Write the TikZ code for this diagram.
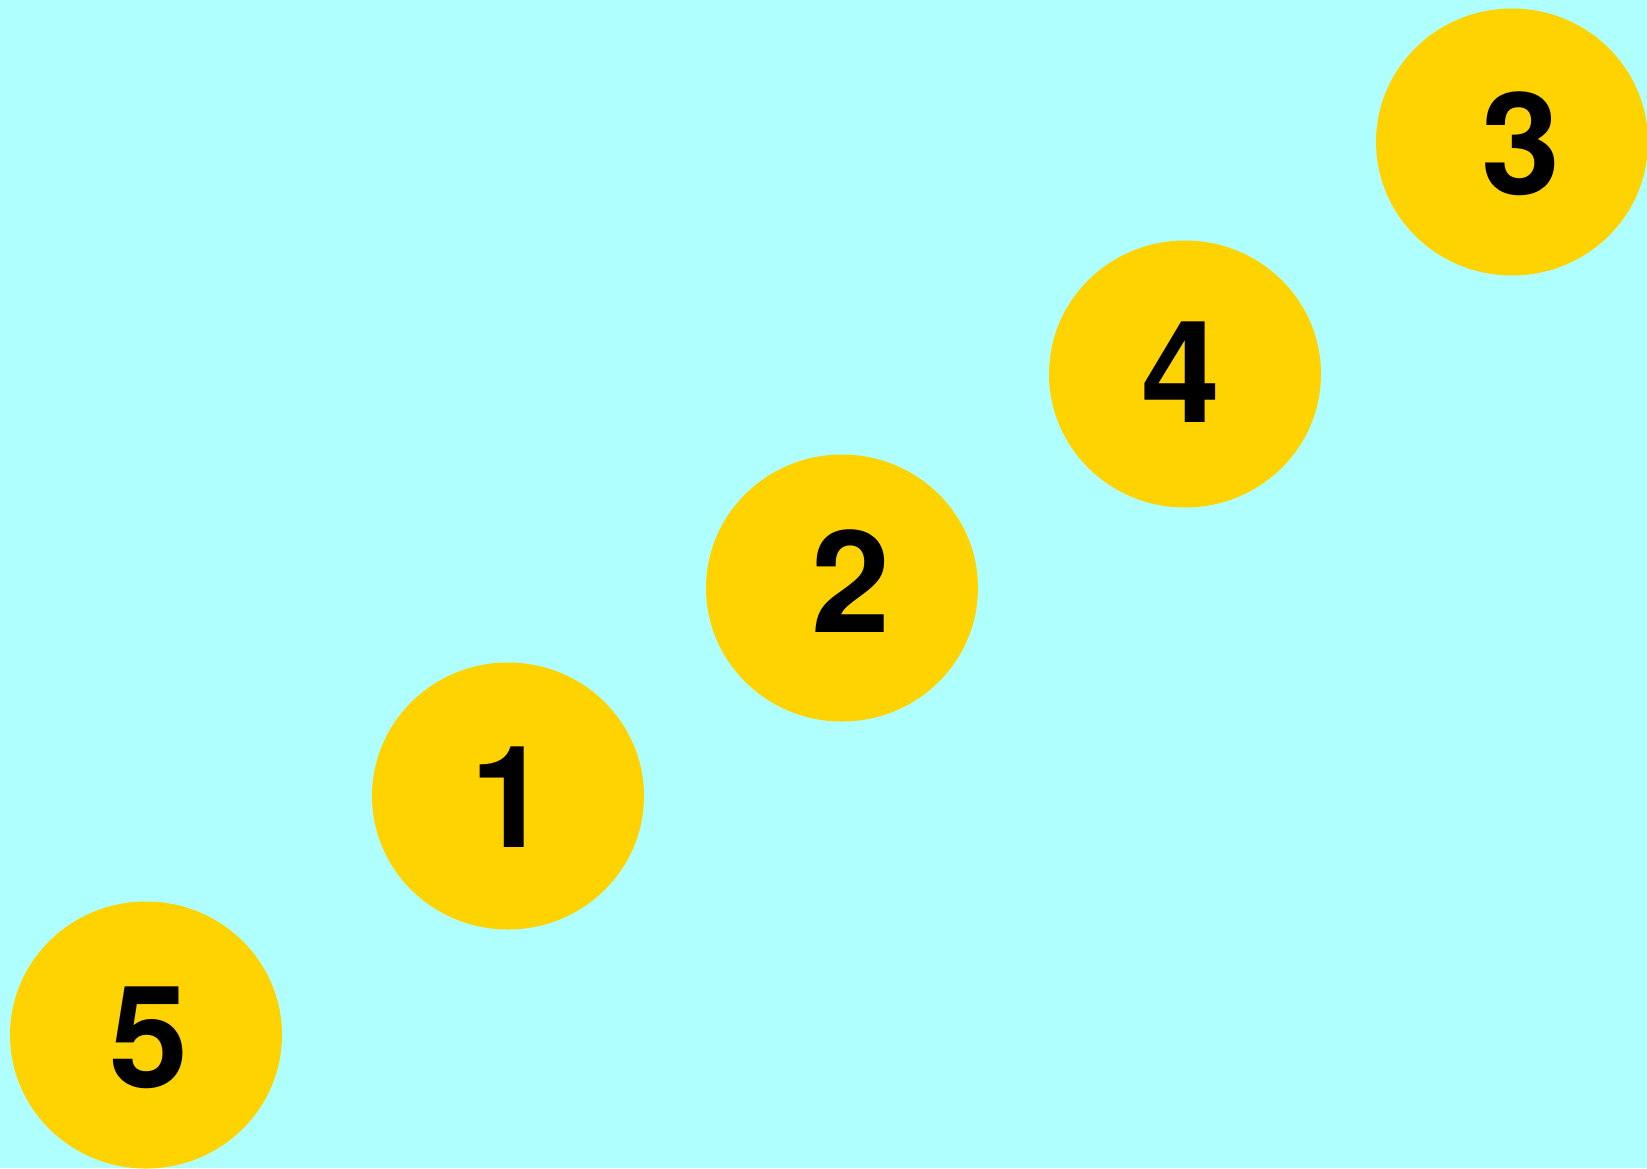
\documentclass[tikz,border=0pt]{standalone}
\usepackage{fontspec}
\newfontfamily\numfont{TeX Gyre Heros}
\definecolor{bgcyan}{RGB}{175,255,255}
\definecolor{disc}{RGB}{255,211,0}
\usetikzlibrary{shapes.geometric}
\begin{document}
\begin{tikzpicture}[x=1pt,y=-1pt,
  numdisc/.style={ellipse, fill=disc, minimum width=272pt, minimum height=267pt, inner sep=0pt},
  numtext/.style={font=\numfont\bfseries\fontsize{142}{142}\selectfont, text=black, inner sep=0pt}]
\fill[bgcyan] (0,0) rectangle (1647,1168);
\useasboundingbox (0,0) rectangle (1647,1168);
\node[numdisc] (d3) at (1512,142) {};
\node[numdisc] (d4) at (1185,374) {};
\node[numdisc] (d2) at (842,588) {};
\node[numdisc] (d1) at (508,796) {};
\node[numdisc] (d5) at (146,1035) {};
\node[numtext] (t3) at (1521,144) {3};
\node[numtext] (t4) at (1181,372) {4};
\node[numtext] (t2) at (851,581) {2};
\node[numtext] (t1) at (510,797) {1};
\node[numtext] (t5) at (149,1038) {5};
\end{tikzpicture}
\end{document}
